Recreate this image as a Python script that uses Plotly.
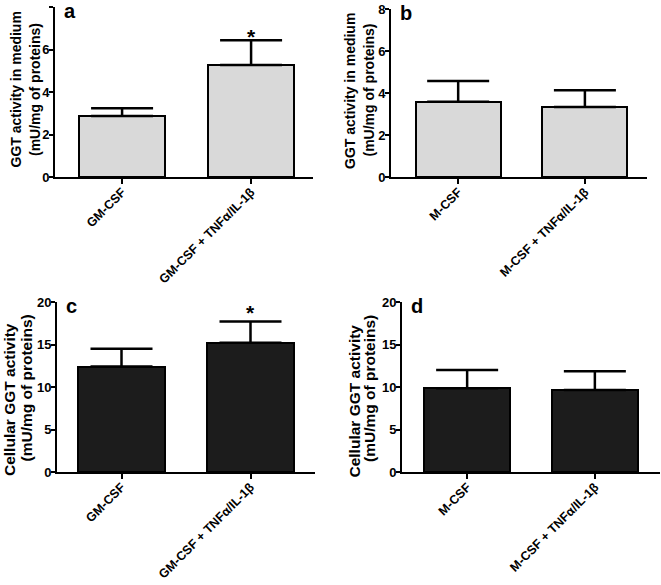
import plotly.graph_objects as go

# ---- data ----
cats_gm = ["<b>GM-CSF</b>", "<b>GM-CSF + TNF</b>α<b>/IL-1</b>β"]
cats_m = ["<b>M-CSF</b>", "<b>M-CSF + TNF</b>α<b>/IL-1</b>β"]
a_vals = [2.87, 5.27]
a_err = [0.36, 1.17]
b_vals = [3.58, 3.33]
b_err = [0.99, 0.80]
c_vals = [12.4, 15.2]
c_err = [2.1, 2.5]
d_vals = [9.85, 9.65]
d_err = [2.15, 2.2]
ytick_top = [0, 2, 4, 6, 8]
ytick_bot = [0, 5, 10, 15, 20]
title_top = ["GGT activity in medium", "(mU/mg of proteins)"]
title_bot = ["Cellular GGT activity", "(mU/mg of proteins)"]
star_a = 6.6
star_c = 18.8

FONT = "Arial, Liberation Sans, Helvetica, sans-serif"
W, H = 661, 585

fig = go.Figure()

# layout positions in pixels
panels = [
    (a_vals, a_err, cats_gm, "#d9d9d9", "x", "y", (55, 313), (7, 177), [-0.52, 1.48], ytick_top, "a",
     title_top, [(15.5, 90), (35, 90)], 14),
    (b_vals, b_err, cats_m, "#d9d9d9", "x2", "y2", (391, 647), (9, 177), [-0.53, 1.49], ytick_top, "b",
     title_top, [(350, 91), (368.5, 90)], 14),
    (c_vals, c_err, cats_gm, "#1c1c1c", "x3", "y3", (57, 315), (302, 472), [-0.5, 1.5], ytick_bot, "c",
     title_bot, [(9, 400), (25.5, 388)], 15.5),
    (d_vals, d_err, cats_m, "#1c1c1c", "x4", "y4", (402, 660), (302, 472), [-0.51, 1.51], ytick_bot, "d",
     title_bot, [(353.5, 401), (369, 389)], 15.5),
]

for i, (vals, err, cats, fill, xa, ya, xd, yd, xr, yt, letter, ytitle, tpos, tsize) in enumerate(panels):
    fig.add_trace(go.Bar(
        x=[0, 1], y=vals, width=0.67,
        marker=dict(color=fill, line=dict(color="black", width=2)),
        error_y=dict(type="data", symmetric=False, array=err, arrayminus=[0, 0],
                     color="black", thickness=2.5, width=31),
        xaxis=xa, yaxis=ya, showlegend=False, hoverinfo="skip",
    ))
    sfx = "" if i == 0 else str(i + 1)
    fig.layout["xaxis" + sfx] = dict(
        domain=[xd[0] / W, xd[1] / W], anchor=ya, range=xr, automargin=False, fixedrange=True,
        tickvals=[0, 1], ticktext=cats, tickangle=-45,
        ticks="outside", ticklen=5, tickwidth=2, tickcolor="black",
        ticklabelstandoff=-4,
        showline=True, linecolor="black", linewidth=2, showgrid=False, zeroline=False,
        tickfont=dict(family=FONT, size=12.5, color="black", weight="bold"),
    )
    fig.layout["yaxis" + sfx] = dict(
        domain=[(H - yd[1]) / H, (H - yd[0]) / H], anchor=xa, range=[0, yt[-1]], automargin=False,
        fixedrange=True, tickvals=yt, ticks="outside", ticklen=4, tickwidth=2, tickcolor="black",
        ticklabelstandoff=-3,
        showline=True, linecolor="black", linewidth=2, showgrid=False, zeroline=False,
        tickfont=dict(family=FONT, size=13, color="black", weight="bold"),
    )
    fig.add_annotation(x=(xd[0] + 7) / W, y=(H - yd[0] + 9) / H, xref="paper", yref="paper",
                       text="<b>" + letter + "</b>", showarrow=False, xanchor="left", yanchor="top",
                       font=dict(family=FONT, size=20, color="black"))
    for line, (px, py) in zip(ytitle, tpos):
        fig.add_annotation(x=px / W, y=(H - py) / H, xref="paper", yref="paper",
                           text="<b>" + line + "</b>", showarrow=False, textangle=-90,
                           xanchor="center", yanchor="middle",
                           font=dict(family=FONT, size=tsize, color="black"))

fig.add_annotation(x=1, y=star_a, xref="x", yref="y", text="<b>*</b>",
                   showarrow=False, yanchor="middle", font=dict(family=FONT, size=21, color="black"))
fig.add_annotation(x=1, y=star_c, xref="x3", yref="y3", text="<b>*</b>",
                   showarrow=False, yanchor="middle", font=dict(family=FONT, size=21, color="black"))

fig.update_layout(
    width=W, height=H, margin=dict(l=0, r=0, t=0, b=0),
    plot_bgcolor="white", paper_bgcolor="white",
    font=dict(family=FONT, color="black"),
    bargap=0,
)

fig.write_html("out.html", config={"displayModeBar": False},
               post_script="document.body.style.margin='0';document.body.style.overflow='hidden';")
